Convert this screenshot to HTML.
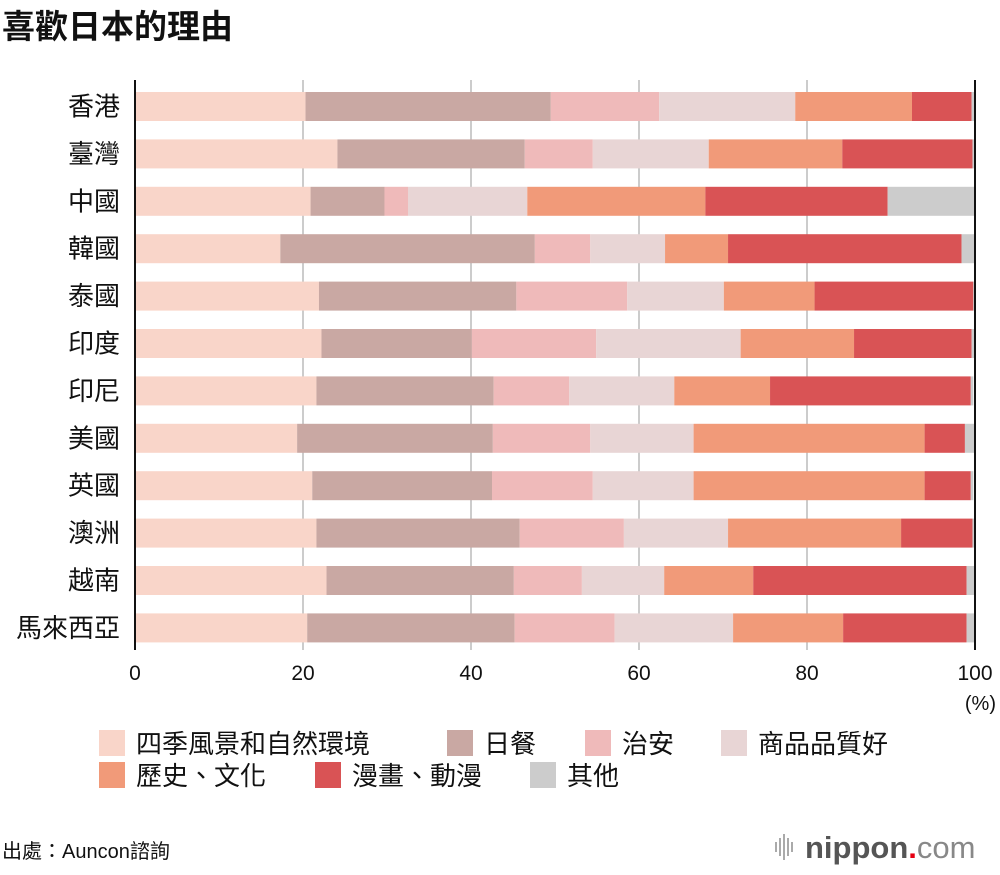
<!DOCTYPE html>
<html><head><meta charset="utf-8">
<style>
body{margin:0;background:#fff;width:1000px;height:870px;overflow:hidden;font-family:"Liberation Sans","Noto Sans CJK TC",sans-serif;}
svg text{font-family:"Liberation Sans","Noto Sans CJK TC",sans-serif;}
</style></head>
<body>
<svg id="chart" width="1000" height="870" xmlns="http://www.w3.org/2000/svg">
<text x="2" y="38" font-size="33" font-weight="bold" fill="#111">喜歡日本的理由</text>
<g id="grid"></g><g id="bars"></g><g id="axes"></g><g id="legend"></g>
<text x="996" y="710" font-size="20" text-anchor="end" fill="#111">(%)</text>
<text x="2" y="858" font-size="20" fill="#111">出處：Auncon諮詢</text>
<g>
<g stroke="#aaa" stroke-width="2">
<line x1="776" y1="842" x2="776" y2="852"/><line x1="780" y1="838" x2="780" y2="856"/><line x1="784" y1="834" x2="784" y2="860"/><line x1="788" y1="838" x2="788" y2="856"/><line x1="792" y1="842" x2="792" y2="852"/>
</g>
<text x="805" y="858" font-size="31" font-weight="bold" fill="#555">nippon<tspan fill="#e60012">.</tspan><tspan font-weight="normal" fill="#888">com</tspan></text>
</g>
</svg>
<script>
const categories=["香港","臺灣","中國","韓國","泰國","印度","印尼","美國","英國","澳洲","越南","馬來西亞"];
const seriesNames=["四季風景和自然環境","日餐","治安","商品品質好","歷史、文化","漫畫、動漫","其他"];
const scenery=[20.3,24.1,20.9,17.3,21.9,22.2,21.6,19.3,21.1,21.6,22.8,20.5];
const food=[29.2,22.3,8.8,30.3,23.5,17.9,21.1,23.3,21.4,24.2,22.3,24.7];
const safety=[12.9,8.1,2.8,6.6,13.2,14.8,9.0,11.6,12.0,12.4,8.1,11.9];
const quality=[16.2,13.8,14.2,8.9,11.5,17.2,12.5,12.3,12.0,12.4,9.8,14.1];
const history=[13.9,15.9,21.2,7.5,10.8,13.5,11.4,27.5,27.5,20.6,10.6,13.1];
const anime=[7.1,15.5,21.7,27.8,18.9,14.0,23.9,4.8,5.5,8.5,25.4,14.7];
const other=[0.3,0.3,10.4,1.6,0.2,0.3,0.3,1.2,0.3,0.3,1.0,1.0];
const ticks=[0,20,40,60,80,100];
const series=[scenery,food,safety,quality,history,anime,other];
const colors=["#f9d5c9","#c9a8a3","#efbaba","#e8d5d5","#f19a79","#d95355","#cccccc"];
const NS="http://www.w3.org/2000/svg";
const X0=135,X1=975,TOP=80,BOT=650,ROW0=92,PITCH=47.4,BH=29;
const xs=v=>X0+(X1-X0)*v/100;
function mk(tag,attrs,parent){const e=document.createElementNS(NS,tag);for(const k in attrs)e.setAttribute(k,attrs[k]);parent.appendChild(e);return e;}
const grid=document.getElementById('grid'),bars=document.getElementById('bars'),axes=document.getElementById('axes'),legend=document.getElementById('legend');
ticks.forEach(t=>{
  if(t>0&&t<100){const l=mk('line',{x1:xs(t),x2:xs(t),y1:TOP,y2:BOT,stroke:'#ccc','stroke-width':2},grid);
  
  }
  const tx=mk('text',{x:xs(t),y:680,'font-size':21,'text-anchor':'middle',fill:'#111'},axes);tx.textContent=t;
  
  
});
categories.forEach((c,i)=>{
  const y=ROW0+i*PITCH;let acc=0;
  series.forEach((s,j)=>{
    const r=mk('rect',{x:xs(acc),y:y,width:xs(acc+s[i])-xs(acc),height:BH,fill:colors[j]},bars);
    
    
    acc+=s[i];
  });
  const t=mk('text',{x:120,y:y+BH/2+9,'font-size':26,'text-anchor':'end',fill:'#111'},axes);t.textContent=c;
  
  
});
const a1=mk('line',{x1:X0,x2:X0,y1:TOP,y2:BOT,stroke:'#111','stroke-width':2},axes);


const a2=mk('line',{x1:X1,x2:X1,y1:TOP,y2:BOT,stroke:'#111','stroke-width':2},axes);


const lx=[99,447,585,721,99,315,530],ly=[743,743,743,743,775,775,775];
seriesNames.forEach((n,j)=>{
  const g=mk('g',{},legend);
  
  
  mk('rect',{x:lx[j],y:ly[j]-13,width:26,height:26,fill:colors[j]},g);
  const t=mk('text',{x:lx[j]+37,y:ly[j]+10,'font-size':26,fill:'#111'},g);t.textContent=n;
});
</script>
</body></html>
